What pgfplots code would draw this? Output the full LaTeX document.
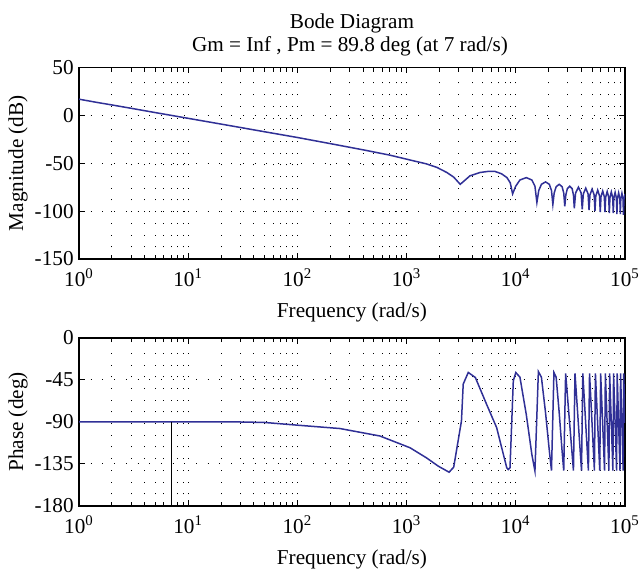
\documentclass[border=0pt]{standalone}
\usepackage{fontspec}
\setmainfont{Liberation Serif}
\usepackage{pgfplots}
\pgfplotsset{compat=1.18}
\definecolor{bodeblue}{RGB}{48,48,150}
\pgfplotsset{
  every axis/.append style={
    scale only axis, width=273pt,
    xmin=1, xmax=100000,
    xtick={1,10,100,1000,10000,100000},
    xticklabels={10\textsuperscript{0},10\textsuperscript{1},10\textsuperscript{2},10\textsuperscript{3},10\textsuperscript{4},10\textsuperscript{5}},
    minor xtick={2,3,4,5,6,7,8,9,20,30,40,50,60,70,80,90,200,300,400,500,600,700,800,900,2000,3000,4000,5000,6000,7000,8000,9000,20000,30000,40000,50000,60000,70000,80000,90000},
    tick align=inside,
    major tick length=3pt, minor tick length=1.8pt,
    xmajorgrids, xminorgrids, ymajorgrids,
    grid style={black, line width=0.5pt, dash pattern=on 0.5pt off 5.35pt},
    minor grid style={black, line width=0.5pt, dash pattern=on 0.5pt off 5.35pt},
    axis line style={black, line width=0.8pt},
    every tick/.style={black, line width=0.5pt},
    xticklabel style={anchor=base, yshift=-13.85pt},
    xlabel={Frequency (rad/s)},
    xlabel style={at={(axis description cs:0.5,0)}, anchor=base, yshift=-29.5pt},
    ylabel style={at={(axis description cs:-0.1117,0.5)}, anchor=center},
    yticklabel style={inner sep=2.5pt},
  }
}
\begin{document}
\fontsize{10.6}{12.7}\selectfont
\begin{tikzpicture}
\useasboundingbox (0,0) rectangle (319.5pt,286.5pt);
\node[anchor=base] at (176pt,272.25pt) {Bode Diagram};
\node[anchor=base] at (175pt,260.5pt) {Gm = Inf , Pm = 89.8 deg (at 7 rad/s)};
\begin{semilogxaxis}[at={(39.5pt,157pt)}, anchor=south west, height=95.75pt,
  ymin=-150, ymax=50, ytick={-150,-100,-50,0,50}, yticklabels={-150,-100,-50,0,50},
  ylabel={Magnitude (dB)}]
\addplot[bodeblue, line width=0.75pt] coordinates {
(1,16.9) (1.5,13.3) (2,10.9) (3,7.4) (5,2.9) (7,0) (10,-3.1) (20,-9.1) (50,-17.1) (100,-23.1) (200,-29.5) (400,-36) (700,-41.5) (1150,-47.4) (1500,-50.5) (1900,-54.4) (2340,-59.7) (2700,-64.5) (3100,-72) (3800,-63.2) (4680,-59.7) (5500,-58.6) (6460,-58.6) (7400,-61) (8300,-65) (8900,-70.5) (9350,-82)
(9975,-74) (10912,-67.5) (12475,-65) (14037,-67.5) (14975,-74) (15600,-91)
(16225,-78.5) (17162,-72) (18725,-69.5) (20287,-72) (21225,-78.5) (21850,-93)
(22475,-81) (23412,-74.5) (24975,-72) (26537,-74.5) (27475,-81) (28100,-95)
(28725,-83) (29662,-76.5) (31225,-74) (32787,-76.5) (33725,-83) (34350,-97)
(35288,-81) (37475,-75) (39662,-81) (40600,-98)
(41538,-82) (43725,-76) (45912,-82) (46850,-99)
(47788,-83) (49975,-77) (52162,-83) (53100,-100)
(54038,-84) (56225,-78) (58412,-84) (59350,-101)
(60288,-85) (62475,-79) (64662,-85) (65600,-101)
(66538,-85.5) (68725,-79.5) (70912,-85.5) (71850,-102)
(72788,-86) (74975,-80) (77162,-86) (78100,-102)
(79038,-86.5) (81225,-80.5) (83412,-86.5) (84350,-103)
(85288,-87) (87475,-81) (89662,-87) (90600,-103)
(91538,-87.5) (93725,-81.5) (95912,-87.5) (96850,-104)
(97788,-88) (100000,-82)
};
\end{semilogxaxis}
\begin{semilogxaxis}[at={(39.5pt,33.5pt)}, anchor=south west, height=84pt,
  ymin=-180, ymax=0, ytick={-180,-135,-90,-45,0}, yticklabels={-180,-135,-90,-45,0},
  ylabel={Phase (deg)}]
\addplot[bodeblue, line width=0.75pt] coordinates {
(1,-90) (30,-90) (50,-90.5) (100,-93.4) (245,-97) (570,-105) (1075,-117.6) (1520,-128.4) (1950,-137.3) (2450,-143.8) (2700,-138.4) (3180,-88.9) (3300,-49.4) (3670,-36.9) (4260,-42.3) (5400,-71) (6680,-96.1) (8260,-139) (8520,-140.9) (8850,-139) (9490,-45.9) (10000,-37) (10912,-42) (12475,-82) (14037,-125) (14975,-142.5)
(16100,-36) (17162,-42) (18725,-80) (20287,-121) (21225,-142)
(22350,-37) (23412,-42) (24975,-80) (26537,-121) (27475,-142)
(28600,-38) (33725,-142)
(34850,-38) (39975,-142)
(41100,-38) (46225,-142)
(47350,-38) (52475,-142)
(53600,-38) (58725,-142)
(59850,-38) (64975,-142)
(66100,-38) (71225,-142)
(72350,-38) (77475,-142)
(78600,-38) (83725,-142)
(84850,-38) (89975,-142)
(91100,-38) (96225,-142)
(97350,-38) (100000,-91)
};
\addplot[black, line width=0.6pt] coordinates {(7,-180) (7,-90)};
\end{semilogxaxis}
\end{tikzpicture}
\end{document}
